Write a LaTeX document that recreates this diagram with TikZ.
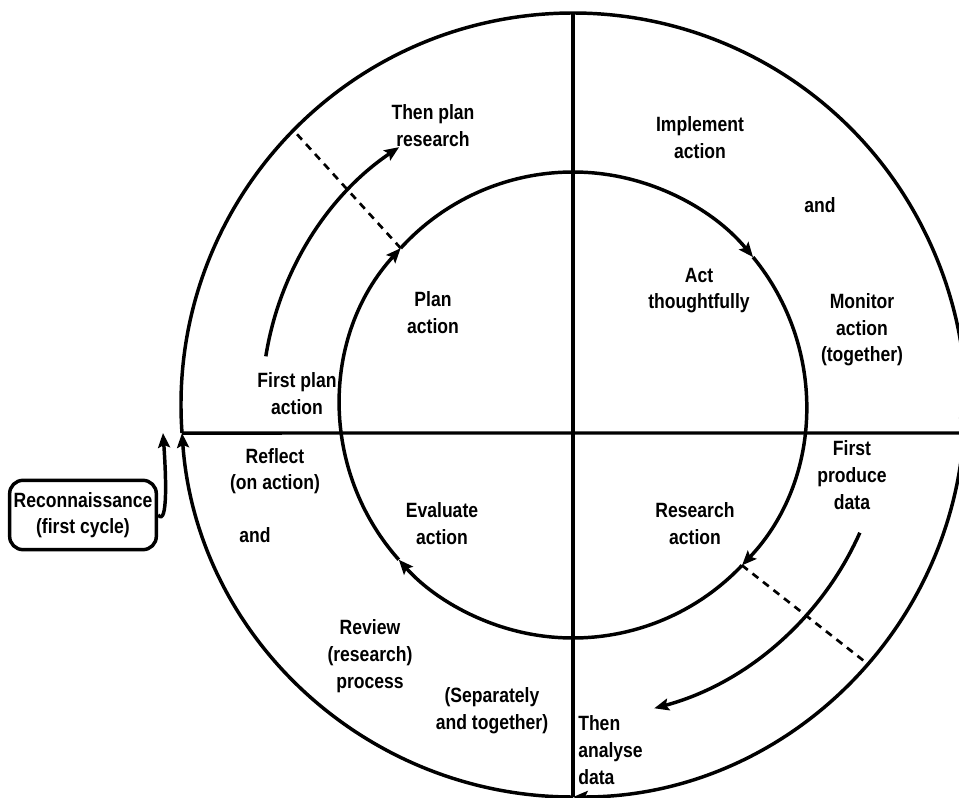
\documentclass[tikz,border=0pt]{standalone}
\usepackage{fontspec}
\setmainfont{Liberation Sans}[FakeStretch=0.85]
\usetikzlibrary{arrows.meta}

\begin{document}
\begin{tikzpicture}[x=0.75pt,y=0.75pt,
        >={Stealth[length=11pt,width=9pt,inset=2pt]},
        ring/.style={line width=2.6pt},
        cut/.style={line width=2pt, dash pattern=on 5.5pt off 4.5pt},
        txt/.style={align=center, font=\bfseries\fontsize{15.5pt}{20pt}\selectfont, inner sep=0pt},
        reconbox/.style={txt, draw, line width=2.6pt, rounded corners=10pt,
            minimum width=110pt, minimum height=52pt}]
        \useasboundingbox (-573,-393) rectangle (386,405);

        % the outer cycle
        \draw[ring,->] (-90:392) arc[start angle=-90, end angle=-175.9, radius=392];
        \draw[ring,->] (184.1:392) arc[start angle=184.1, end angle=-4.1, radius=392];
        \draw[ring,->] (-4.1:392) arc[start angle=-4.1, end angle=-90, radius=392];

        % the quadrants
        \draw[ring] (184.1:392) -- (400,-28);
        \draw[ring] (0,392) -- (0,-392);

        % the inner cycle
        \draw[ring,->] (137.7:233) arc[start angle=137.7, end angle=39.4, radius=233];
        \draw[ring,->] (39.4:233) arc[start angle=39.4, end angle=-43.5, radius=233];
        \draw[ring,->] (-43.5:233) arc[start angle=-43.5, end angle=-138.4, radius=233];
        \draw[ring,->] (-138.4:233) arc[start angle=-138.4, end angle=-222.3, radius=233];

        % the steps in between
        \draw[ring,->] (171:311) arc[start angle=171, end angle=124, radius=311];
        \draw[ring,->] (-24:314) arc[start angle=-24, end angle=-75, radius=314];
        \draw[cut] (137.7:233) -- (135.5:392);
        \draw[cut] (-43.5:233) -- (-41.3:392);

        % the texts
        \node[txt] (thenplan) at (-140,279.5) {Then plan\\research};
        \node[txt] (implement) at (127,267.5) {Implement\\action};
        \node[txt] (andtop) at (247,200) {and};
        \node[txt] (act) at (126,114.5) {Act\\thoughtfully};
        \node[txt] (plan) at (-140,92.5) {Plan\\action};
        \node[txt] (monitor) at (289,75) {Monitor\\action\\(together)};
        \node[txt] (firstplan) at (-276,11.5) {First plan\\action};
        \node[txt] (reflect) at (-298,-66) {Reflect\\(on action)};
        \node[txt] (andlow) at (-318,-130) {and};
        \node[txt] (evaluate) at (-131,-118.5) {Evaluate\\action};
        \node[txt] (research) at (122,-118.5) {Research\\action};
        \node[txt] (produce) at (279,-70) {First\\produce\\data};
        \node[txt] (review) at (-203,-251) {Review\\(research)\\process};
        \node[txt] (separately) at (-81,-306) {(Separately\\and together)};
        \node[txt, anchor=west, align=left] (analyse) at (5,-345) {Then\\analyse\\data};

        % the way in
        \node[reconbox] (recon) at (-490,-110) {Reconnaissance\\(first cycle)};
        \coordinate (reconend) at (-410,-28);
        \draw[ring,->] (recon.east) .. controls (-405,-122) and (-407,-70) .. (reconend);

    \end{tikzpicture}
\end{document}
